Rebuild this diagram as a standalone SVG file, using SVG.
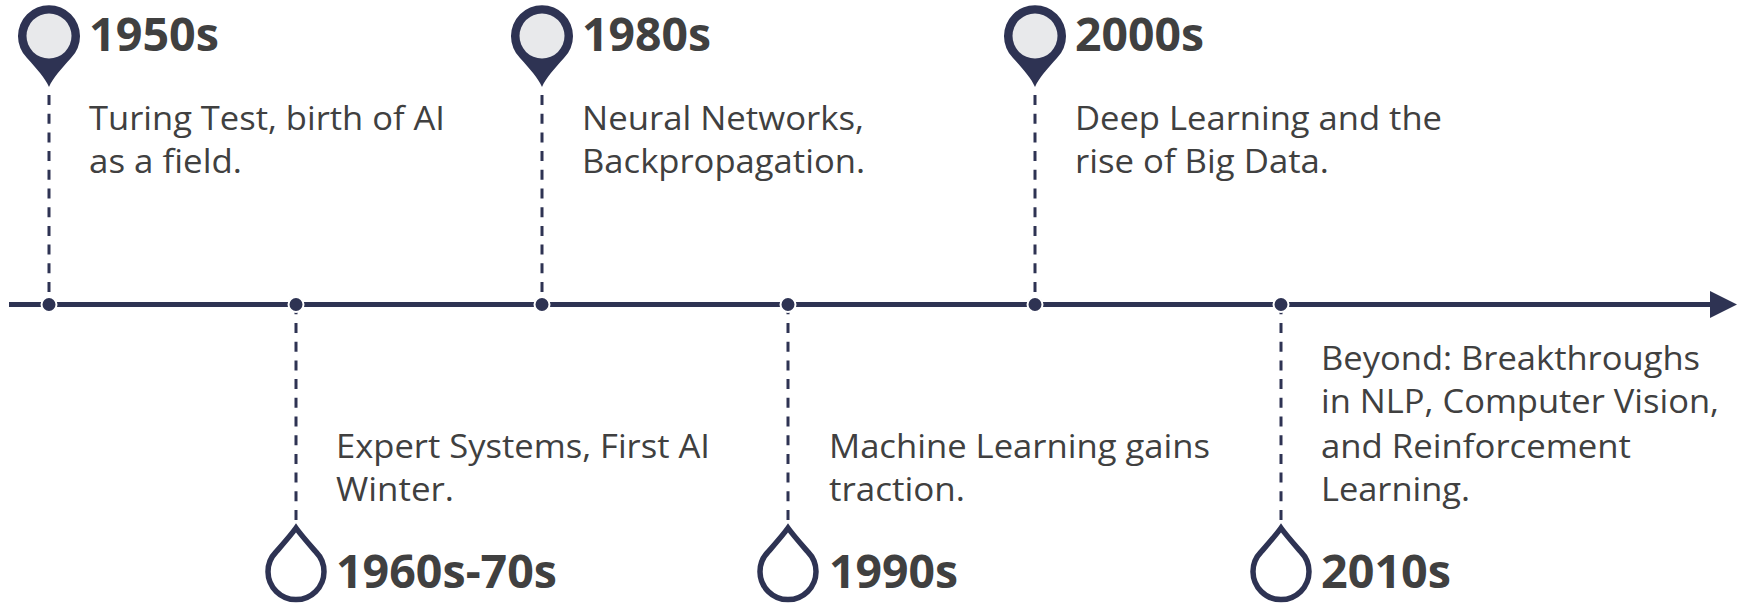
<svg xmlns="http://www.w3.org/2000/svg" width="1741" height="604" viewBox="0 0 1741 604">
<style>
.t{font-family:"Open Sans","Noto Sans","Liberation Sans",sans-serif;font-size:47px;font-weight:700;fill:#404040}
.b{font-family:"Open Sans","Noto Sans","Liberation Sans",sans-serif;font-size:32.5px;fill:#404040}
.axis{stroke:#2e3353;stroke-width:5;fill:none}
.dash{stroke:#2e3353;stroke-width:3;stroke-dasharray:10 8.7;fill:none}
.dot{fill:#2e3353}
.node-dot{fill:#2e3353;stroke:#fff;stroke-width:2}
.drop{fill:#fff;stroke:#2e3353;stroke-width:5.5}
</style>
<defs>
<g id="pin"><path d="M0 51 C-4 42 -12 33 -22 22 A31 31 0 1 1 22 22 C12 33 4 42 0 51Z" fill="#2e3353"/><circle r="22.5" fill="#e8e9eb"/></g>
<path id="dp" d="M0 -44 C-5 -37 -13 -28 -20 -20 A28 28 0 1 0 20 -20 C13 -28 5 -37 0 -44Z" class="drop"/>
</defs>
<g id="connectors">
<path class="axis" d="M9 304.5H1712"/>
<path class="dot" d="M1710 291L1737 304.5L1710 318Z"/>
<path class="dash" d="M49 95V304M296 520V304M542 95V304M788 520V304M1035 95V304M1281 520V304"/>
</g>
<g id="n1950"><circle class="node-dot" cx="49" cy="304.5" r="7.5"/><use href="#pin" x="49" y="36"/><text class="t" x="89" y="51" textLength="130" lengthAdjust="spacingAndGlyphs">1950s</text><text class="b" x="89" y="129.5" textLength="356" lengthAdjust="spacingAndGlyphs">Turing Test, birth of AI</text><text class="b" x="89" y="173" textLength="153" lengthAdjust="spacingAndGlyphs">as a field.</text></g>
<g id="n1960"><circle class="node-dot" cx="296" cy="304.5" r="7.5"/><use href="#dp" x="296" y="572"/><text class="t" x="336" y="588" textLength="221" lengthAdjust="spacingAndGlyphs">1960s-70s</text><text class="b" x="336" y="458" textLength="374" lengthAdjust="spacingAndGlyphs">Expert Systems, First AI</text><text class="b" x="336" y="501" textLength="118" lengthAdjust="spacingAndGlyphs">Winter.</text></g>
<g id="n1980"><circle class="node-dot" cx="542" cy="304.5" r="7.5"/><use href="#pin" x="542" y="36"/><text class="t" x="582" y="51" textLength="129" lengthAdjust="spacingAndGlyphs">1980s</text><text class="b" x="582" y="129.5" textLength="282" lengthAdjust="spacingAndGlyphs">Neural Networks,</text><text class="b" x="582" y="173" textLength="283" lengthAdjust="spacingAndGlyphs">Backpropagation.</text></g>
<g id="n1990"><circle class="node-dot" cx="788" cy="304.5" r="7.5"/><use href="#dp" x="788" y="572"/><text class="t" x="829" y="588" textLength="129" lengthAdjust="spacingAndGlyphs">1990s</text><text class="b" x="829" y="458" textLength="381" lengthAdjust="spacingAndGlyphs">Machine Learning gains</text><text class="b" x="829" y="501" textLength="136" lengthAdjust="spacingAndGlyphs">traction.</text></g>
<g id="n2000"><circle class="node-dot" cx="1035" cy="304.5" r="7.5"/><use href="#pin" x="1035" y="36"/><text class="t" x="1075" y="51" textLength="129" lengthAdjust="spacingAndGlyphs">2000s</text><text class="b" x="1075" y="129.5" textLength="367" lengthAdjust="spacingAndGlyphs">Deep Learning and the</text><text class="b" x="1075" y="173" textLength="254" lengthAdjust="spacingAndGlyphs">rise of Big Data.</text></g>
<g id="n2010"><circle class="node-dot" cx="1281" cy="304.5" r="7.5"/><use href="#dp" x="1281" y="572"/><text class="t" x="1321" y="588" textLength="130" lengthAdjust="spacingAndGlyphs">2010s</text><text class="b" x="1321" y="369.5" textLength="379" lengthAdjust="spacingAndGlyphs">Beyond: Breakthroughs</text><text class="b" x="1321" y="413" textLength="398" lengthAdjust="spacingAndGlyphs">in NLP, Computer Vision,</text><text class="b" x="1321" y="458" textLength="310" lengthAdjust="spacingAndGlyphs">and Reinforcement</text><text class="b" x="1321" y="501" textLength="149" lengthAdjust="spacingAndGlyphs">Learning.</text></g>
</svg>
